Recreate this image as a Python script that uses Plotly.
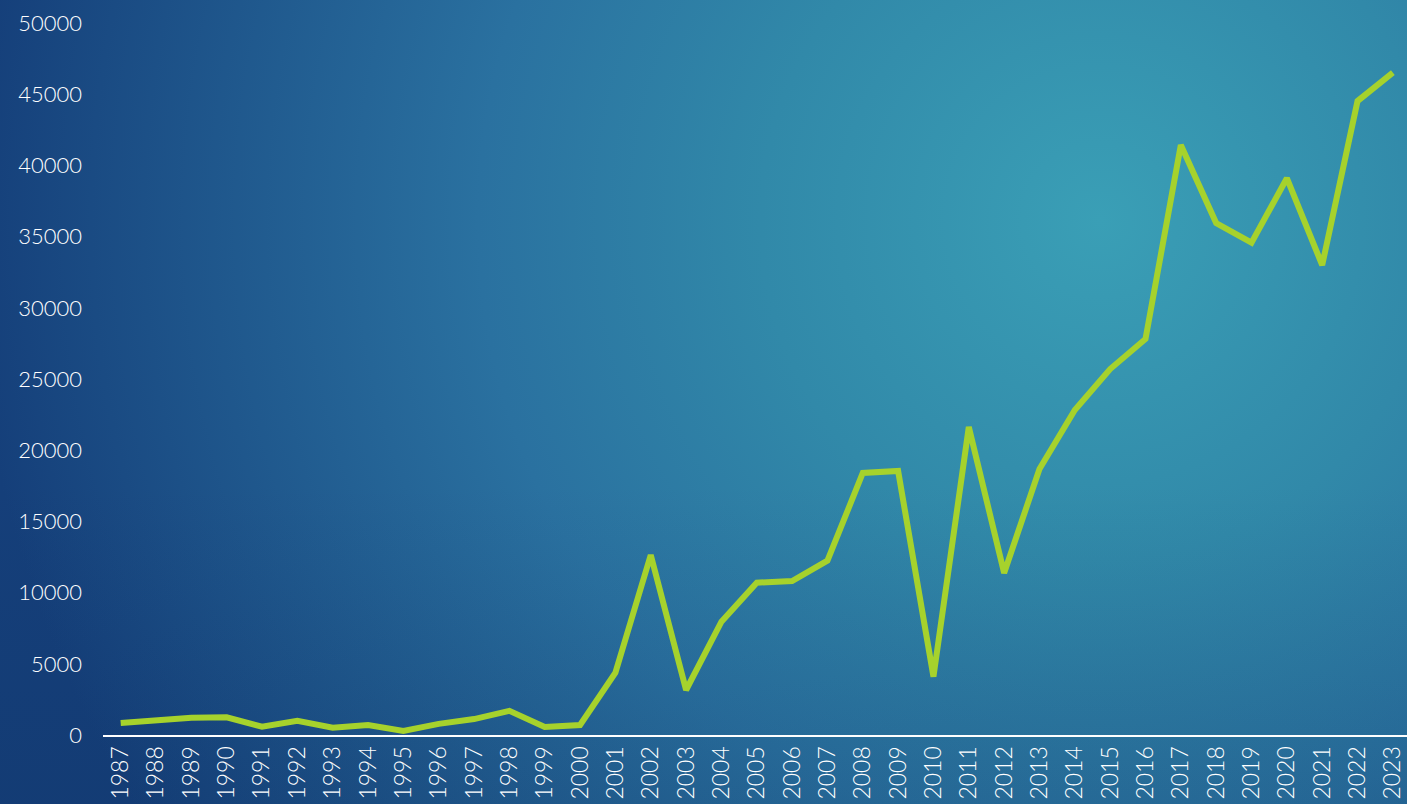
import base64
import plotly.graph_objects as go

years = list(range(1987, 2024))
values = [850, 1050, 1210, 1240, 580, 1000, 510, 700, 280, 780,
          1120, 1700, 560, 700, 4380, 12640, 3160, 7960, 10700, 10810,
          12240, 18400, 18540, 4100, 21630, 11380, 18680, 22820, 25700, 27810,
          41430, 35950, 34570, 39100, 33000, 44520, 46510]
y_ticks = list(range(0, 50001, 5000))

W, H = 1407, 804
svg = f'''<svg xmlns="http://www.w3.org/2000/svg" width="{W}" height="{H}" viewBox="0 0 {W} {H}">
<defs>
<radialGradient id="g" cx="1100" cy="220" r="1130" gradientUnits="userSpaceOnUse">
<stop offset="0" stop-color="#3a9fb6"/>
<stop offset="0.3" stop-color="#3189a9"/>
<stop offset="0.55" stop-color="#2a71a0"/>
<stop offset="1" stop-color="#153f7a"/>
</radialGradient>
<linearGradient id="d" x1="0" y1="0" x2="0" y2="1">
<stop offset="0.6" stop-color="#0a2a55" stop-opacity="0"/>
<stop offset="1" stop-color="#0a2a55" stop-opacity="0.15"/>
</linearGradient>
</defs>
<rect width="{W}" height="{H}" fill="url(#g)"/>
<rect width="{W}" height="{H}" fill="url(#d)"/>
</svg>'''
bg = "data:image/svg+xml;base64," + base64.b64encode(svg.encode()).decode()

fig = go.Figure()
fig.add_trace(go.Scatter(
    x=years, y=values, mode="lines",
    line=dict(color="#a6d22c", width=6),
    hoverinfo="x+y",
))

fig.update_layout(
    width=W, height=H,
    margin=dict(l=103, r=0, t=23, b=69, autoexpand=False),
    paper_bgcolor="#1c4f88",
    plot_bgcolor="rgba(0,0,0,0)",
    showlegend=False,
    font=dict(family="Lato, sans-serif", color="white", weight=300),
    images=[dict(source=bg, xref="paper", yref="paper",
                 x=-103 / (W - 103), y=1 + 23 / (H - 23 - 69),
                 sizex=W / (W - 103), sizey=H / (H - 23 - 69),
                 xanchor="left", yanchor="top",
                 sizing="stretch", layer="below")],
)

fig.update_xaxes(
    range=[1986.5, 2023.4], tickmode="array", tickvals=years,
    ticktext=[str(y) for y in years], tickangle=-90,
    tickfont=dict(size=23, color="white", weight=300),
    ticklabeloverflow="allow",
    showgrid=False, zeroline=False,
    showline=True, linecolor="white", linewidth=2,
    ticks="", automargin=False,
)
fig.update_yaxes(
    range=[0, 50000], tickmode="array", tickvals=y_ticks,
    ticktext=[str(v) for v in y_ticks],
    tickfont=dict(size=22, color="white", weight=300),
    showgrid=False, zeroline=False, showline=False,
    ticks="", ticklabelstandoff=20, automargin=False,
)

fig.write_html("out.html")
